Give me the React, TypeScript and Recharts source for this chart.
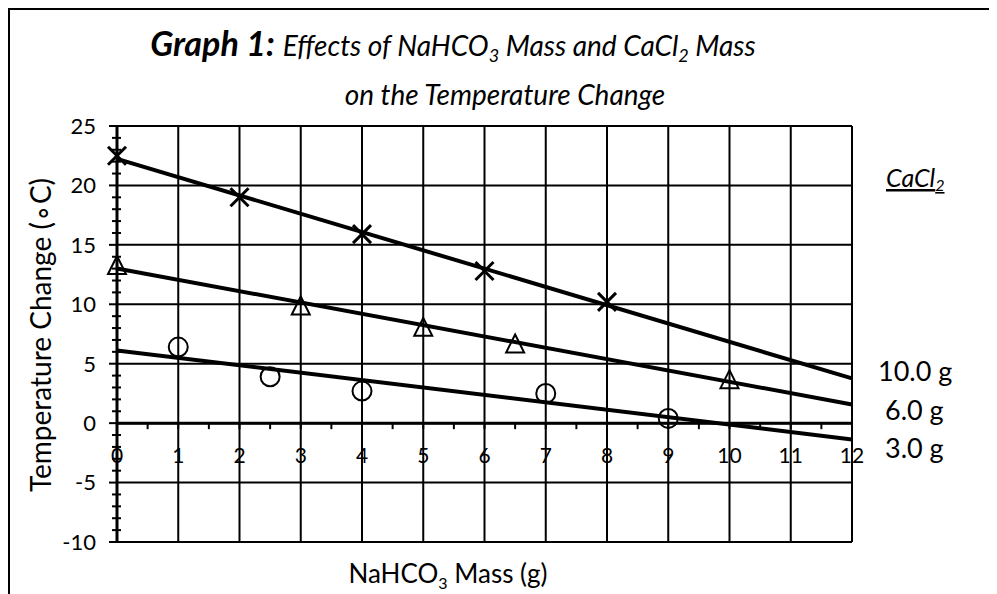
import React from 'react';
import {
  ComposedChart,
  XAxis,
  YAxis,
  CartesianGrid,
  Scatter,
  ReferenceLine,
  ReferenceDot,
} from 'recharts';

// ---- data ----
const xTicks = [0, 1, 2, 3, 4, 5, 6, 7, 8, 9, 10, 11, 12];
const yTicks = [-10, -5, 0, 5, 10, 15, 20, 25];
const yMinorTicks = [-9, -8, -7, -6, -4, -3, -2, -1, 1, 2, 3, 4, 6, 7, 8, 9, 11, 12, 13, 14, 16, 17, 18, 19, 21, 22, 23, 24];
const xMinorTicks = [0.5, 1.5, 2.5, 3.5, 4.5, 5.5, 6.5, 7.5, 8.5, 9.5, 10.5, 11.5];

const mass10 = [0, 2, 4, 6, 8];
const temp10 = [22.5, 19, 15.9, 12.8, 10.2];
const mass6 = [0, 3, 5, 6.5, 10];
const temp6 = [13.3, 9.9, 8.1, 6.7, 3.7];
const mass3 = [1, 2.5, 4, 7, 9];
const temp3 = [6.4, 3.9, 2.7, 2.5, 0.4];
const seriesLabels = ['10.0 g', '6.0 g', '3.0 g'];

const FONT = 'Lato, "Open Sans", sans-serif';

const toPoints = (xs: number[], ys: number[]) => xs.map((x, i) => ({ x, y: ys[i] }));

// least-squares trendline through the points, drawn across the x-domain
const trend = (xs: number[], ys: number[]) => {
  const n = xs.length;
  const mx = xs.reduce((a, b) => a + b, 0) / n;
  const my = ys.reduce((a, b) => a + b, 0) / n;
  let sxy = 0;
  let sxx = 0;
  for (let i = 0; i < n; i++) {
    sxy += (xs[i] - mx) * (ys[i] - my);
    sxx += (xs[i] - mx) * (xs[i] - mx);
  }
  const b = sxy / sxx;
  const a = my - b * mx;
  const x0 = xTicks[0];
  const x1 = xTicks[xTicks.length - 1];
  return [
    { x: x0, y: a + b * x0 },
    { x: x1, y: a + b * x1 },
  ];
};

const CrossShape = (p: any) => {
  const { cx, cy } = p;
  const s = 9;
  return (
    <g>
      <line x1={cx - s} y1={cy - s} x2={cx + s} y2={cy + s} stroke="#000" strokeWidth={3} />
      <line x1={cx - s} y1={cy + s} x2={cx + s} y2={cy - s} stroke="#000" strokeWidth={3} />
    </g>
  );
};

const TriangleShape = (p: any) => {
  const { cx, cy } = p;
  const w = 9;
  const h = 9;
  return (
    <polygon
      points={`${cx},${cy - h} ${cx + w},${cy + h} ${cx - w},${cy + h}`}
      fill="none"
      stroke="#000"
      strokeWidth={2}
    />
  );
};

const CircleShape = (p: any) => {
  const { cx, cy } = p;
  return <circle cx={cx} cy={cy} r={9.5} fill="none" stroke="#000" strokeWidth={2} />;
};

const YMinorTick = (p: any) => {
  const { cx, cy } = p;
  return <line x1={cx - 5} y1={cy} x2={cx + 4} y2={cy} stroke="#000" strokeWidth={2} />;
};

const XMinorTick = (p: any) => {
  const { cx, cy } = p;
  return <line x1={cx} y1={cy} x2={cx} y2={cy + 6} stroke="#000" strokeWidth={2} />;
};

const XTickLabel = (label: number) => (p: any) => {
  const { cx, cy } = p;
  return (
    <g>
      <line x1={cx} y1={cy} x2={cx} y2={cy + 6} stroke="#000" strokeWidth={2} />
      <text x={cx} y={cy + 40} textAnchor="middle" fontSize={21} fontFamily={FONT} fill="#000">
        {label}
      </text>
    </g>
  );
};

const EmptyTick = () => <g />;

export default function App() {
  const t10 = trend(mass10, temp10);
  const t6 = trend(mass6, temp6);
  const t3 = trend(mass3, temp3);
  return (
    <div
      style={{
        position: 'relative',
        width: 987,
        height: 584,
        borderLeft: '2px solid #000',
        borderTop: '2px solid #000',
        background: '#fff',
      }}
    >
      <ComposedChart width={987} height={584} margin={{ top: 116, right: 145, bottom: 52, left: 57 }}>
        <CartesianGrid stroke="#000" strokeWidth={2} verticalValues={xTicks} horizontalValues={yTicks} />
        <XAxis
          type="number"
          dataKey="x"
          domain={[0, 12]}
          ticks={xTicks}
          tick={EmptyTick}
          axisLine={false}
          tickLine={false}
          height={0}
        />
        <YAxis
          type="number"
          domain={[-10, 25]}
          ticks={yTicks}
          width={50}
          tickSize={8}
          tickMargin={13}
          axisLine={{ stroke: '#000', strokeWidth: 3 }}
          tickLine={{ stroke: '#000', strokeWidth: 2 }}
          tick={{ fill: '#000', fontSize: 22, fontFamily: FONT }}
        />
        <ReferenceLine y={0} stroke="#000" strokeWidth={3} />
        {yMinorTicks.map((v) => (
          <ReferenceDot key={'ym' + v} x={0} y={v} r={0} shape={YMinorTick} ifOverflow="visible" />
        ))}
        {xMinorTicks.map((v) => (
          <ReferenceDot key={'xm' + v} x={v} y={0} r={0} shape={XMinorTick} ifOverflow="visible" />
        ))}
        {xTicks.map((v) => (
          <ReferenceDot key={'xl' + v} x={v} y={0} r={0} shape={XTickLabel(v)} ifOverflow="visible" />
        ))}
        <ReferenceLine segment={t10} stroke="#000" strokeWidth={4} ifOverflow="visible" />
        <ReferenceLine segment={t6} stroke="#000" strokeWidth={4} ifOverflow="visible" />
        <ReferenceLine segment={t3} stroke="#000" strokeWidth={4} ifOverflow="visible" />
        <Scatter name={seriesLabels[0]} data={toPoints(mass10, temp10)} dataKey="y" shape={CrossShape} isAnimationActive={false} />
        <Scatter name={seriesLabels[1]} data={toPoints(mass6, temp6)} dataKey="y" shape={TriangleShape} isAnimationActive={false} />
        <Scatter name={seriesLabels[2]} data={toPoints(mass3, temp3)} dataKey="y" shape={CircleShape} isAnimationActive={false} />
      </ComposedChart>
      <svg
        width={987}
        height={584}
        style={{ position: 'absolute', left: 0, top: 0, pointerEvents: 'none' }}
        fontFamily={FONT}
      >
        <text x={443} y={46} textAnchor="middle" fill="#000">
          <tspan fontSize={34} fontWeight="bold" fontStyle="italic">Graph 1:</tspan>
          <tspan fontSize={28} fontStyle="italic" dx={8}>Effects of NaHCO</tspan>
          <tspan fontSize={18} fontStyle="italic" dy={6}>3</tspan>
          <tspan fontSize={28} fontStyle="italic" dy={-6}> Mass and CaCl</tspan>
          <tspan fontSize={18} fontStyle="italic" dy={6}>2</tspan>
          <tspan fontSize={28} fontStyle="italic" dy={-6}> Mass</tspan>
        </text>
        <text x={495} y={95} textAnchor="middle" fill="#000" fontSize={28} fontStyle="italic">
          on the Temperature Change
        </text>
        <text
          x={30}
          y={325}
          transform="rotate(-90 30 325)"
          textAnchor="middle"
          dominantBaseline="central"
          fontSize={28}
          fill="#000"
        >
          Temperature Change (∘C)
        </text>
        <text x={438} y={573} textAnchor="middle" fontSize={26} fill="#000">
          <tspan>NaHCO</tspan>
          <tspan fontSize={16} dy={6}>3</tspan>
          <tspan dy={-6}> Mass (g)</tspan>
        </text>
        <text x={876} y={177} fontSize={25} fontStyle="italic" fill="#000" textDecoration="underline">
          <tspan>CaCl</tspan>
          <tspan fontSize={16} dy={4}>2</tspan>
        </text>
        <text x={868} y={371} fontSize={27} fill="#000">{seriesLabels[0]}</text>
        <text x={875} y={410} fontSize={27} fill="#000">{seriesLabels[1]}</text>
        <text x={875} y={448} fontSize={27} fill="#000">{seriesLabels[2]}</text>
      </svg>
    </div>
  );
}
